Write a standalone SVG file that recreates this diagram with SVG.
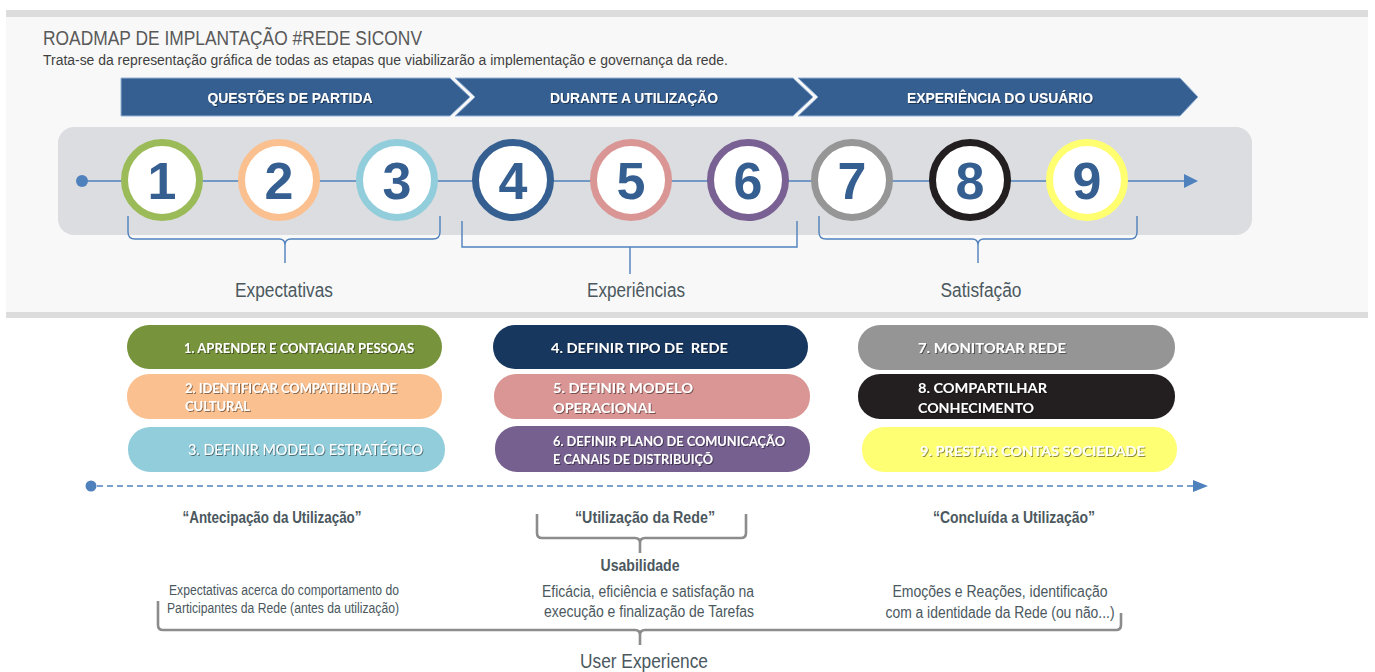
<svg xmlns="http://www.w3.org/2000/svg" width="1375" height="672" viewBox="0 0 1375 672">
  <defs>
    <style>
      .narrow { font-family: "Liberation Sans Narrow", "Liberation Sans", Arial, sans-serif; }
      .title { font-size: 20.5px; fill: #595959; }
      .subtitle { font-size: 14px; fill: #3f3f3f; }
      .band { font-size: 15.5px; font-weight: bold; fill: #ffffff; }
      .num { font-family: "Liberation Sans", Arial, sans-serif; font-size: 52px; font-weight: bold; fill: #365f91; text-anchor: middle; }
      .ring { fill: #ffffff; stroke-width: 7; }
      .group-label { font-size: 20px; fill: #4b585e; text-anchor: middle; }
      .pill-text { font-family: Lato, "Open Sans", "Liberation Sans", sans-serif; font-weight: bold; font-size: 13px; fill: #ffffff; }
      .pill-light { font-family: Lato, "Open Sans", "Liberation Sans", sans-serif; font-weight: normal; font-size: 15px; fill: #ffffff; }
      .phase { font-size: 16px; font-weight: bold; fill: #4b585e; text-anchor: middle; }
      .desc { font-size: 16px; fill: #4b585e; text-anchor: middle; }
      .desc-small { font-size: 14px; fill: #4b585e; text-anchor: middle; }
      .ux { font-size: 21px; fill: #4b585e; text-anchor: middle; }
      .blue-brace { fill: none; stroke: #4f81bd; stroke-width: 1.4; }
      .gray-brace { fill: none; stroke: #8c8c8c; stroke-width: 2.6; stroke-linejoin: round; }
      .axis { stroke: #4f81bd; stroke-width: 1.5; fill: none; }
      .chevron { fill: #365f91; stroke: #95b3d7; stroke-width: 1; }
    </style>
    <filter id="textShadow" x="-5%" y="-30%" width="110%" height="160%">
      <feDropShadow dx="1" dy="1" stdDeviation="0.6" flood-color="#000000" flood-opacity="0.45"/>
    </filter>
  </defs>

  <!-- upper panel -->
  <rect x="6" y="10" width="1362" height="308" fill="#f8f8f8"/>
  <rect x="6" y="10" width="1362" height="7" fill="#dcdcdc"/>
  <rect x="6" y="312" width="1362" height="6" fill="#dcdcdc"/>

  <g id="header">
    <text class="narrow title" x="43" y="45" textLength="379" lengthAdjust="spacingAndGlyphs">ROADMAP DE IMPLANTAÇÃO #REDE SICONV</text>
    <text class="narrow subtitle" x="43" y="65" textLength="685" lengthAdjust="spacingAndGlyphs">Trata-se da representação gráfica de todas as etapas que viabilizarão a implementação e governança da rede.</text>
  </g>

  <!-- stage banner -->
  <g id="stage-questoes">
    <polygon class="chevron" points="121,78 450,78 470,97 450,116 121,116"/>
    <text class="narrow band" x="290" y="103" text-anchor="middle" textLength="165" lengthAdjust="spacingAndGlyphs" filter="url(#textShadow)">QUESTÕES DE PARTIDA</text>
  </g>
  <g id="stage-durante">
    <polygon class="chevron" points="455,78 793,78 813,97 793,116 455,116 475,97"/>
    <text class="narrow band" x="634" y="103" text-anchor="middle" textLength="168" lengthAdjust="spacingAndGlyphs" filter="url(#textShadow)">DURANTE A UTILIZAÇÃO</text>
  </g>
  <g id="stage-experiencia">
    <polygon class="chevron" points="798,78 1180,78 1198,97 1180,116 798,116 818,97"/>
    <text class="narrow band" x="1000" y="103" text-anchor="middle" textLength="186" lengthAdjust="spacingAndGlyphs" filter="url(#textShadow)">EXPERIÊNCIA DO USUÁRIO</text>
  </g>

  <!-- timeline track -->
  <rect x="58" y="127" width="1194" height="108" rx="16" fill="#dcdde0"/>

  <g id="connectors">
    <line class="axis" x1="82" y1="181" x2="1186" y2="181"/>
    <circle cx="82" cy="181" r="6" fill="#4f81bd"/>
    <polygon points="1184,174 1198,181 1184,188" fill="#4f81bd"/>

    <path class="blue-brace" d="M128,216 L128,232 Q128,239 135,239 L279,239 Q285,239 285,245 L285,263 M285,245 Q285,239 291,239 L433,239 Q440,239 440,232 L440,216"/>
    <path class="blue-brace" d="M462,221 L462,247 L797,247 L797,221 M630,247 L630,274"/>
    <path class="blue-brace" d="M819,216 L819,232 Q819,239 826,239 L972,239 Q978,239 978,245 L978,263 M978,245 Q978,239 984,239 L1130,239 Q1137,239 1137,232 L1137,216"/>

    <line x1="97" y1="486" x2="1194" y2="486" stroke="#4f81bd" stroke-width="1.5" stroke-dasharray="6 4"/>
    <circle cx="91" cy="486" r="5.5" fill="#4f81bd"/>
    <polygon points="1193,480 1208,486 1193,492" fill="#4f81bd"/>

    <path class="gray-brace" d="M537,514 L537,533 Q537,538 542,538 L635,538 Q640,538 640,543 L640,553 M640,543 Q640,538 645,538 L741,538 Q746,538 746,533 L746,514"/>
    <path class="gray-brace" d="M158,601 L158,625 Q158,630 163,630 L635,630 Q640,630 640,635 L640,645 M640,635 Q640,630 645,630 L1116,630 Q1121,630 1121,625 L1121,613"/>
  </g>

  <!-- numbered steps -->
  <g id="step-1"><circle class="ring" cx="162" cy="180" r="37.5" stroke="#9bbb59"/><text class="num" x="162" y="199">1</text></g>
  <g id="step-2"><circle class="ring" cx="279" cy="180" r="37.5" stroke="#fac090"/><text class="num" x="279" y="199">2</text></g>
  <g id="step-3"><circle class="ring" cx="397" cy="180" r="37.5" stroke="#92cddc"/><text class="num" x="397" y="199">3</text></g>
  <g id="step-4"><circle class="ring" cx="513" cy="180" r="37.5" stroke="#365f91"/><text class="num" x="513" y="199">4</text></g>
  <g id="step-5"><circle class="ring" cx="631" cy="180" r="37.5" stroke="#d99694"/><text class="num" x="631" y="199">5</text></g>
  <g id="step-6"><circle class="ring" cx="748" cy="180" r="37.5" stroke="#7a6194"/><text class="num" x="748" y="199">6</text></g>
  <g id="step-7"><circle class="ring" cx="852" cy="180" r="37.5" stroke="#969696"/><text class="num" x="852" y="199">7</text></g>
  <g id="step-8"><circle class="ring" cx="970" cy="180" r="37.5" stroke="#231f20"/><text class="num" x="970" y="199">8</text></g>
  <g id="step-9"><circle class="ring" cx="1087" cy="180" r="37.5" stroke="#ffff70"/><text class="num" x="1087" y="199">9</text></g>

  <g id="label-expectativas"><text class="narrow group-label" x="284" y="297" textLength="98" lengthAdjust="spacingAndGlyphs">Expectativas</text></g>
  <g id="label-experiencias"><text class="narrow group-label" x="636" y="297" textLength="98" lengthAdjust="spacingAndGlyphs">Experiências</text></g>
  <g id="label-satisfacao"><text class="narrow group-label" x="981" y="297" textLength="81" lengthAdjust="spacingAndGlyphs">Satisfação</text></g>

  <!-- action pills -->
  <g id="action-1">
    <rect x="127" y="325" width="315" height="44" rx="22" fill="#77933c"/>
    <text class="pill-text" x="184" y="353" textLength="230" lengthAdjust="spacingAndGlyphs" filter="url(#textShadow)">1. APRENDER E CONTAGIAR PESSOAS</text>
  </g>
  <g id="action-2">
    <rect x="127" y="374" width="315" height="45" rx="22" fill="#fac090"/>
    <text class="pill-text" x="185" y="393" textLength="212" lengthAdjust="spacingAndGlyphs" filter="url(#textShadow)">2. IDENTIFICAR COMPATIBILIDADE</text>
    <text class="pill-text" x="185" y="411" textLength="65" lengthAdjust="spacingAndGlyphs" filter="url(#textShadow)">CULTURAL</text>
  </g>
  <g id="action-3">
    <rect x="128" y="427" width="317" height="45" rx="22" fill="#92cddc"/>
    <text class="pill-light" x="188" y="455" textLength="235" lengthAdjust="spacingAndGlyphs" filter="url(#textShadow)">3. DEFINIR MODELO ESTRATÉGICO</text>
  </g>

  <g id="action-4">
    <rect x="493" y="325" width="315" height="44" rx="22" fill="#17375e"/>
    <text class="pill-text" x="551" y="353" textLength="177" lengthAdjust="spacingAndGlyphs" filter="url(#textShadow)" style="font-size:14px" xml:space="preserve">4. DEFINIR TIPO DE  REDE</text>
  </g>
  <g id="action-5">
    <rect x="494" y="374" width="316" height="45" rx="22" fill="#d99694"/>
    <text class="pill-text" x="553" y="393" textLength="140" lengthAdjust="spacingAndGlyphs" filter="url(#textShadow)" style="font-size:14px">5. DEFINIR MODELO</text>
    <text class="pill-text" x="553" y="413" textLength="102" lengthAdjust="spacingAndGlyphs" filter="url(#textShadow)" style="font-size:14px">OPERACIONAL</text>
  </g>
  <g id="action-6">
    <rect x="495" y="426" width="315" height="46" rx="22" fill="#76608f"/>
    <text class="pill-text" x="553" y="446" textLength="232" lengthAdjust="spacingAndGlyphs" filter="url(#textShadow)">6. DEFINIR PLANO DE COMUNICAÇÃO</text>
    <text class="pill-text" x="553" y="464" textLength="160" lengthAdjust="spacingAndGlyphs" filter="url(#textShadow)">E CANAIS DE DISTRIBUIÇÕ</text>
  </g>

  <g id="action-7">
    <rect x="858" y="325" width="317" height="45" rx="22" fill="#959595"/>
    <text class="pill-text" x="918" y="353" textLength="148" lengthAdjust="spacingAndGlyphs" filter="url(#textShadow)" style="font-size:14px">7. MONITORAR REDE</text>
  </g>
  <g id="action-8">
    <rect x="858" y="374" width="317" height="45" rx="22" fill="#231f20"/>
    <text class="pill-text" x="918" y="393" textLength="129" lengthAdjust="spacingAndGlyphs" filter="url(#textShadow)" style="font-size:14px">8. COMPARTILHAR</text>
    <text class="pill-text" x="918" y="413" textLength="116" lengthAdjust="spacingAndGlyphs" filter="url(#textShadow)" style="font-size:14px">CONHECIMENTO</text>
  </g>
  <g id="action-9">
    <rect x="862" y="427" width="315" height="45" rx="22" fill="#ffff73"/>
    <text class="pill-text" x="920" y="456" textLength="225" lengthAdjust="spacingAndGlyphs" filter="url(#textShadow)" style="font-size:14px">9. PRESTAR CONTAS SOCIEDADE</text>
  </g>

  <!-- usage phases -->
  <g id="phase-antecipacao">
    <text class="narrow phase" x="272" y="523" textLength="179" lengthAdjust="spacingAndGlyphs">“Antecipação da Utilização”</text>
    <text class="narrow desc-small" x="284" y="595" textLength="230" lengthAdjust="spacingAndGlyphs">Expectativas acerca do comportamento do</text>
    <text class="narrow desc-small" x="283" y="613" textLength="232" lengthAdjust="spacingAndGlyphs">Participantes da Rede (antes da utilização)</text>
  </g>
  <g id="phase-utilizacao">
    <text class="narrow phase" x="645" y="523" textLength="140" lengthAdjust="spacingAndGlyphs">“Utilização da Rede”</text>
    <text class="narrow phase" x="640" y="571" textLength="79" lengthAdjust="spacingAndGlyphs">Usabilidade</text>
    <text class="narrow desc" x="648" y="597" textLength="212" lengthAdjust="spacingAndGlyphs">Eficácia, eficiência e satisfação na</text>
    <text class="narrow desc" x="649" y="617" textLength="210" lengthAdjust="spacingAndGlyphs">execução e finalização de Tarefas</text>
  </g>
  <g id="phase-concluida">
    <text class="narrow phase" x="1014" y="523" textLength="162" lengthAdjust="spacingAndGlyphs">“Concluída a Utilização”</text>
    <text class="narrow desc" x="1000" y="597" textLength="215" lengthAdjust="spacingAndGlyphs">Emoções e Reações, identificação</text>
    <text class="narrow desc" x="1000" y="618" textLength="229" lengthAdjust="spacingAndGlyphs">com a identidade da Rede (ou não...)</text>
  </g>
  <g id="label-user-experience">
    <text class="narrow ux" x="644" y="668" textLength="128" lengthAdjust="spacingAndGlyphs">User Experience</text>
  </g>
</svg>
